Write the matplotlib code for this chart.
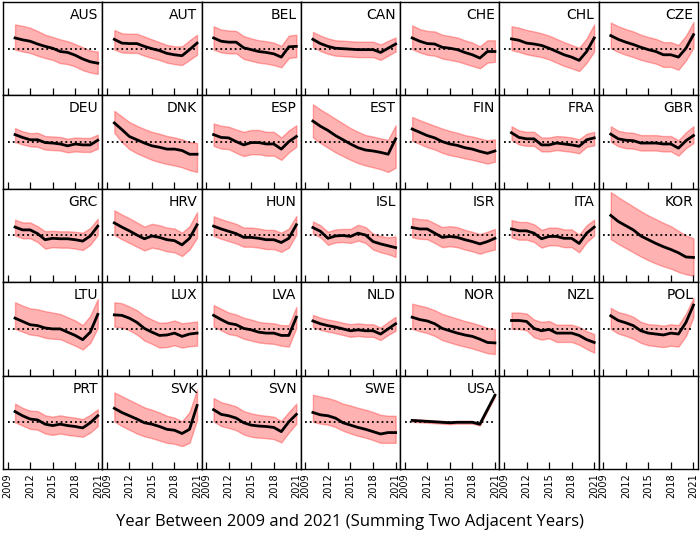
import matplotlib
matplotlib.use("Agg")
import matplotlib.pyplot as plt

YEARS = list(range(2010, 2022))
XTICKS = [2009, 2012, 2015, 2018, 2021]
REF_LEVEL = 1.0
XLABEL = "Year Between 2009 and 2021 (Summing Two Adjacent Years)"

COUNTRIES = ["AUS", "AUT", "BEL", "CAN", "CHE", "CHL", "CZE",
             "DEU", "DNK", "ESP", "EST", "FIN", "FRA", "GBR",
             "GRC", "HRV", "HUN", "ISL", "ISR", "ITA", "KOR",
             "LTU", "LUX", "LVA", "NLD", "NOR", "NZL", "POL",
             "PRT", "SVK", "SVN", "SWE", "USA"]

MEAN = {
    "AUS": [1.23, 1.19, 1.16, 1.10, 1.05, 1.01, 0.94, 0.92, 0.86, 0.78, 0.72, 0.69],
    "AUT": [1.20, 1.12, 1.11, 1.11, 1.05, 1.00, 0.96, 0.90, 0.87, 0.85, 0.98, 1.12],
    "BEL": [1.23, 1.16, 1.14, 1.14, 1.02, 0.98, 0.94, 0.92, 0.89, 0.82, 1.04, 1.05],
    "CAN": [1.20, 1.11, 1.05, 1.01, 1.00, 0.99, 0.98, 0.98, 0.98, 0.92, 1.01, 1.10],
    "CHE": [1.23, 1.16, 1.11, 1.10, 1.03, 1.01, 0.98, 0.92, 0.87, 0.80, 0.94, 0.94],
    "CHL": [1.21, 1.18, 1.12, 1.10, 1.07, 1.01, 0.94, 0.87, 0.82, 0.75, 0.94, 1.23],
    "CZE": [1.28, 1.20, 1.14, 1.09, 1.03, 0.98, 0.94, 0.87, 0.87, 0.82, 1.01, 1.30],
    "DEU": [1.16, 1.10, 1.05, 1.05, 0.99, 0.98, 0.96, 0.92, 0.96, 0.94, 0.94, 1.04],
    "DNK": [1.41, 1.27, 1.12, 1.05, 0.98, 0.92, 0.89, 0.85, 0.85, 0.82, 0.74, 0.74],
    "ESP": [1.16, 1.10, 1.09, 1.01, 0.94, 0.99, 0.99, 0.96, 0.96, 0.85, 1.01, 1.12],
    "EST": [1.45, 1.34, 1.25, 1.14, 1.05, 0.96, 0.88, 0.83, 0.81, 0.78, 0.74, 1.07],
    "FIN": [1.28, 1.21, 1.14, 1.09, 1.01, 0.96, 0.93, 0.88, 0.85, 0.80, 0.76, 0.81],
    "FRA": [1.20, 1.10, 1.07, 1.07, 0.94, 0.94, 0.98, 0.96, 0.94, 0.91, 1.05, 1.09],
    "GBR": [1.17, 1.07, 1.04, 1.03, 0.98, 0.98, 0.98, 0.96, 0.96, 0.87, 1.03, 1.14],
    "GRC": [1.18, 1.12, 1.12, 1.04, 0.91, 0.94, 0.93, 0.93, 0.91, 0.88, 0.99, 1.20],
    "HRV": [1.27, 1.18, 1.10, 1.01, 0.93, 0.99, 0.96, 0.91, 0.89, 0.80, 0.94, 1.23],
    "HUN": [1.20, 1.14, 1.09, 1.04, 0.96, 0.96, 0.94, 0.91, 0.91, 0.85, 0.94, 1.23],
    "ISL": [1.17, 1.09, 0.94, 0.99, 1.00, 0.98, 1.05, 1.01, 0.87, 0.82, 0.78, 0.74],
    "ISR": [1.17, 1.14, 1.14, 1.05, 0.96, 0.98, 0.96, 0.91, 0.87, 0.82, 0.87, 0.94],
    "ITA": [1.14, 1.10, 1.10, 1.05, 0.93, 0.98, 0.98, 0.94, 0.94, 0.83, 1.05, 1.18],
    "KOR": [1.43, 1.30, 1.21, 1.12, 0.99, 0.91, 0.83, 0.76, 0.70, 0.63, 0.54, 0.53],
    "LTU": [1.23, 1.16, 1.09, 1.07, 1.02, 1.00, 1.00, 0.93, 0.86, 0.77, 0.93, 1.31],
    "LUX": [1.30, 1.29, 1.23, 1.14, 1.01, 0.93, 0.86, 0.87, 0.91, 0.84, 0.89, 0.91],
    "LVA": [1.29, 1.20, 1.12, 1.09, 1.01, 0.98, 0.93, 0.91, 0.91, 0.86, 0.86, 1.25],
    "NLD": [1.17, 1.11, 1.07, 1.04, 1.00, 0.96, 0.98, 0.96, 0.96, 0.89, 1.00, 1.11],
    "NOR": [1.25, 1.20, 1.17, 1.11, 1.01, 0.96, 0.91, 0.87, 0.84, 0.78, 0.71, 0.70],
    "NZL": [1.18, 1.18, 1.16, 1.01, 0.96, 0.99, 0.91, 0.91, 0.91, 0.86, 0.77, 0.71],
    "POL": [1.28, 1.18, 1.13, 1.07, 0.96, 0.91, 0.89, 0.87, 0.91, 0.89, 1.14, 1.51],
    "PRT": [1.23, 1.14, 1.07, 1.05, 0.96, 0.93, 0.96, 0.93, 0.91, 0.88, 0.99, 1.14],
    "SVK": [1.30, 1.21, 1.14, 1.07, 0.99, 0.96, 0.91, 0.85, 0.83, 0.76, 0.85, 1.36],
    "SVN": [1.27, 1.17, 1.14, 1.09, 0.99, 0.94, 0.92, 0.91, 0.89, 0.80, 1.01, 1.17],
    "SWE": [1.21, 1.16, 1.14, 1.09, 0.99, 0.94, 0.89, 0.85, 0.80, 0.75, 0.78, 0.78],
    "USA": [1.04, 1.03, 1.02, 1.01, 1.00, 0.99, 1.00, 1.00, 1.00, 0.96, 1.27, 1.58],
}

UPPER = {
    "AUS": [1.52, 1.49, 1.45, 1.38, 1.30, 1.25, 1.20, 1.16, 1.10, 1.03, 0.96, 0.94],
    "AUT": [1.40, 1.33, 1.32, 1.32, 1.26, 1.20, 1.14, 1.08, 1.05, 1.05, 1.18, 1.30],
    "BEL": [1.48, 1.41, 1.39, 1.38, 1.27, 1.22, 1.18, 1.16, 1.13, 1.06, 1.28, 1.30],
    "CAN": [1.36, 1.28, 1.22, 1.18, 1.17, 1.16, 1.15, 1.15, 1.15, 1.09, 1.17, 1.24],
    "CHE": [1.50, 1.42, 1.38, 1.37, 1.30, 1.27, 1.24, 1.18, 1.13, 1.05, 1.18, 1.18],
    "CHL": [1.48, 1.45, 1.40, 1.37, 1.33, 1.28, 1.21, 1.14, 1.08, 1.02, 1.22, 1.52],
    "CZE": [1.56, 1.48, 1.42, 1.37, 1.30, 1.25, 1.21, 1.14, 1.14, 1.08, 1.28, 1.57],
    "DEU": [1.30, 1.23, 1.19, 1.20, 1.13, 1.12, 1.11, 1.07, 1.10, 1.09, 1.09, 1.16],
    "DNK": [1.67, 1.55, 1.43, 1.35, 1.28, 1.22, 1.18, 1.13, 1.10, 1.06, 1.00, 0.98],
    "ESP": [1.40, 1.35, 1.33, 1.27, 1.22, 1.26, 1.26, 1.22, 1.22, 1.10, 1.25, 1.36],
    "EST": [1.81, 1.70, 1.60, 1.50, 1.40, 1.30, 1.22, 1.15, 1.12, 1.08, 1.05, 1.36],
    "FIN": [1.54, 1.47, 1.41, 1.35, 1.29, 1.24, 1.20, 1.15, 1.12, 1.08, 1.04, 1.06],
    "FRA": [1.34, 1.25, 1.22, 1.22, 1.10, 1.10, 1.13, 1.12, 1.10, 1.06, 1.18, 1.22],
    "GBR": [1.34, 1.24, 1.21, 1.20, 1.15, 1.15, 1.15, 1.13, 1.13, 1.04, 1.21, 1.34],
    "GRC": [1.34, 1.28, 1.28, 1.20, 1.09, 1.10, 1.09, 1.09, 1.08, 1.06, 1.16, 1.36],
    "HRV": [1.54, 1.45, 1.37, 1.28, 1.19, 1.25, 1.22, 1.17, 1.15, 1.06, 1.20, 1.50],
    "HUN": [1.41, 1.35, 1.30, 1.25, 1.17, 1.17, 1.15, 1.12, 1.12, 1.06, 1.15, 1.42],
    "ISL": [1.30, 1.22, 1.08, 1.13, 1.14, 1.14, 1.23, 1.18, 1.04, 0.99, 0.96, 0.98],
    "ISR": [1.38, 1.35, 1.34, 1.26, 1.18, 1.20, 1.18, 1.12, 1.08, 1.03, 1.08, 1.14],
    "ITA": [1.33, 1.29, 1.29, 1.24, 1.12, 1.17, 1.17, 1.13, 1.13, 1.02, 1.22, 1.34],
    "KOR": [1.93, 1.82, 1.72, 1.62, 1.52, 1.43, 1.35, 1.27, 1.20, 1.10, 1.00, 0.94],
    "LTU": [1.57, 1.50, 1.44, 1.42, 1.38, 1.35, 1.32, 1.25, 1.18, 1.08, 1.28, 1.64],
    "LUX": [1.57, 1.55, 1.48, 1.40, 1.28, 1.20, 1.13, 1.14, 1.18, 1.12, 1.14, 1.16],
    "LVA": [1.51, 1.43, 1.35, 1.31, 1.24, 1.20, 1.15, 1.13, 1.12, 1.08, 1.08, 1.47],
    "NLD": [1.30, 1.24, 1.20, 1.17, 1.13, 1.10, 1.12, 1.10, 1.10, 1.03, 1.15, 1.26],
    "NOR": [1.54, 1.50, 1.46, 1.40, 1.32, 1.27, 1.22, 1.17, 1.13, 1.08, 1.02, 1.00],
    "NZL": [1.35, 1.35, 1.33, 1.20, 1.15, 1.17, 1.09, 1.09, 1.09, 1.04, 0.95, 0.89],
    "POL": [1.45, 1.36, 1.32, 1.26, 1.15, 1.10, 1.09, 1.07, 1.10, 1.08, 1.33, 1.67],
    "PRT": [1.40, 1.31, 1.25, 1.24, 1.15, 1.12, 1.15, 1.12, 1.10, 1.07, 1.16, 1.28],
    "SVK": [1.64, 1.56, 1.48, 1.40, 1.32, 1.27, 1.21, 1.14, 1.10, 1.02, 1.22, 1.70],
    "SVN": [1.52, 1.43, 1.39, 1.34, 1.24, 1.19, 1.16, 1.14, 1.12, 1.03, 1.22, 1.40],
    "SWE": [1.59, 1.55, 1.52, 1.47, 1.40, 1.36, 1.31, 1.27, 1.22, 1.16, 1.14, 1.14],
    "USA": [1.07, 1.06, 1.05, 1.04, 1.03, 1.02, 1.03, 1.03, 1.03, 0.99, 1.30, 1.62],
}

LOWER = {
    "AUS": [0.98, 0.94, 0.91, 0.85, 0.80, 0.76, 0.69, 0.67, 0.62, 0.54, 0.49, 0.46],
    "AUT": [0.98, 0.92, 0.91, 0.91, 0.85, 0.80, 0.76, 0.70, 0.67, 0.65, 0.76, 0.87],
    "BEL": [0.98, 0.92, 0.90, 0.90, 0.78, 0.74, 0.70, 0.68, 0.65, 0.60, 0.80, 0.82],
    "CAN": [1.04, 0.95, 0.89, 0.85, 0.84, 0.83, 0.82, 0.82, 0.82, 0.76, 0.85, 0.94],
    "CHE": [0.99, 0.92, 0.87, 0.85, 0.79, 0.76, 0.73, 0.68, 0.63, 0.58, 0.70, 0.72],
    "CHL": [0.97, 0.93, 0.88, 0.85, 0.82, 0.77, 0.70, 0.63, 0.58, 0.52, 0.70, 0.94],
    "CZE": [1.01, 0.93, 0.87, 0.82, 0.76, 0.72, 0.68, 0.61, 0.61, 0.55, 0.75, 1.02],
    "DEU": [1.00, 0.95, 0.91, 0.90, 0.84, 0.83, 0.82, 0.78, 0.80, 0.79, 0.79, 0.86],
    "DNK": [1.20, 1.00, 0.85, 0.76, 0.69, 0.62, 0.57, 0.53, 0.50, 0.46, 0.40, 0.36],
    "ESP": [0.92, 0.86, 0.85, 0.77, 0.70, 0.74, 0.74, 0.71, 0.71, 0.62, 0.78, 0.90],
    "EST": [1.10, 0.98, 0.88, 0.78, 0.70, 0.62, 0.55, 0.50, 0.46, 0.42, 0.36, 0.45],
    "FIN": [1.03, 0.96, 0.89, 0.84, 0.77, 0.72, 0.69, 0.65, 0.62, 0.58, 0.54, 0.58],
    "FRA": [1.05, 0.95, 0.92, 0.92, 0.80, 0.80, 0.83, 0.81, 0.79, 0.76, 0.90, 0.93],
    "GBR": [1.01, 0.91, 0.87, 0.86, 0.82, 0.82, 0.82, 0.80, 0.80, 0.71, 0.87, 0.98],
    "GRC": [1.00, 0.94, 0.94, 0.86, 0.72, 0.75, 0.74, 0.74, 0.72, 0.69, 0.80, 1.01],
    "HRV": [1.01, 0.92, 0.84, 0.76, 0.68, 0.74, 0.71, 0.66, 0.64, 0.56, 0.70, 0.95],
    "HUN": [0.99, 0.93, 0.88, 0.83, 0.76, 0.76, 0.74, 0.71, 0.71, 0.65, 0.74, 1.02],
    "ISL": [1.04, 0.96, 0.80, 0.85, 0.86, 0.84, 0.89, 0.84, 0.70, 0.64, 0.60, 0.54],
    "ISR": [0.96, 0.93, 0.92, 0.84, 0.75, 0.77, 0.75, 0.70, 0.66, 0.61, 0.66, 0.70],
    "ITA": [0.96, 0.91, 0.91, 0.86, 0.74, 0.79, 0.79, 0.75, 0.75, 0.64, 0.86, 1.00],
    "KOR": [0.92, 0.82, 0.73, 0.64, 0.55, 0.47, 0.40, 0.34, 0.29, 0.22, 0.17, 0.14],
    "LTU": [1.00, 0.94, 0.88, 0.86, 0.81, 0.79, 0.78, 0.71, 0.64, 0.56, 0.70, 1.02],
    "LUX": [1.05, 1.03, 0.97, 0.88, 0.75, 0.68, 0.60, 0.61, 0.65, 0.60, 0.63, 0.64],
    "LVA": [1.05, 0.97, 0.89, 0.86, 0.79, 0.75, 0.71, 0.69, 0.68, 0.64, 0.62, 1.02],
    "NLD": [1.04, 0.98, 0.94, 0.91, 0.87, 0.83, 0.85, 0.83, 0.83, 0.76, 0.87, 0.96],
    "NOR": [1.00, 0.95, 0.91, 0.85, 0.76, 0.71, 0.66, 0.62, 0.58, 0.53, 0.48, 0.46],
    "NZL": [1.00, 1.00, 0.97, 0.82, 0.77, 0.80, 0.72, 0.72, 0.72, 0.66, 0.57, 0.49],
    "POL": [1.00, 0.90, 0.85, 0.79, 0.70, 0.65, 0.63, 0.61, 0.64, 0.62, 0.85, 1.25],
    "PRT": [1.00, 0.93, 0.86, 0.84, 0.76, 0.73, 0.76, 0.73, 0.71, 0.69, 0.78, 0.92],
    "SVK": [1.02, 0.92, 0.84, 0.76, 0.70, 0.66, 0.61, 0.56, 0.54, 0.49, 0.56, 1.05],
    "SVN": [1.02, 0.92, 0.88, 0.83, 0.74, 0.69, 0.67, 0.66, 0.64, 0.57, 0.78, 0.97],
    "SWE": [1.01, 0.97, 0.95, 0.90, 0.82, 0.76, 0.71, 0.67, 0.62, 0.56, 0.56, 0.56],
    "USA": [1.01, 1.00, 0.99, 0.98, 0.97, 0.96, 0.97, 0.97, 0.97, 0.93, 1.24, 1.54],
}

NROWS, NCOLS = 5, 7

fig, axes = plt.subplots(NROWS, NCOLS, figsize=(7.0, 5.34), dpi=100,
                         sharex=True, sharey=True)
fig.subplots_adjust(left=3/700, right=698/700, top=1-2/534, bottom=1-469/534,
                    wspace=0, hspace=0)

for i, ax in enumerate(axes.flat):
    ax.set_xlim(2008.4, 2021.6)
    ax.set_ylim(0, 2)
    ax.set_xticks(XTICKS)
    ax.tick_params(axis='x', direction='in', length=5, width=0.9,
                   labelsize=7, labelrotation=90, pad=3)
    ax.tick_params(axis='y', left=False, labelleft=False)
    for sp in ax.spines.values():
        sp.set_linewidth(1.0)
    if i < len(COUNTRIES):
        c = COUNTRIES[i]
        ax.fill_between(YEARS, LOWER[c], UPPER[c], color='red', alpha=0.3,
                        linewidth=1.0, zorder=1)
        ax.hlines(REF_LEVEL, XTICKS[0], XTICKS[-1], colors='black',
                  linestyles=':', linewidth=1.3, zorder=2)
        ax.plot(YEARS, MEAN[c], color='black', linewidth=2.0, zorder=3)
        ax.text(0.955, 0.935, c, transform=ax.transAxes, ha='right', va='top',
                fontsize=10)

fig.text(0.5, 8/534, XLABEL, ha='center', va='baseline', fontsize=12,
         family=['Open Sans', 'DejaVu Sans'])

fig.savefig("out.png", dpi=100)
